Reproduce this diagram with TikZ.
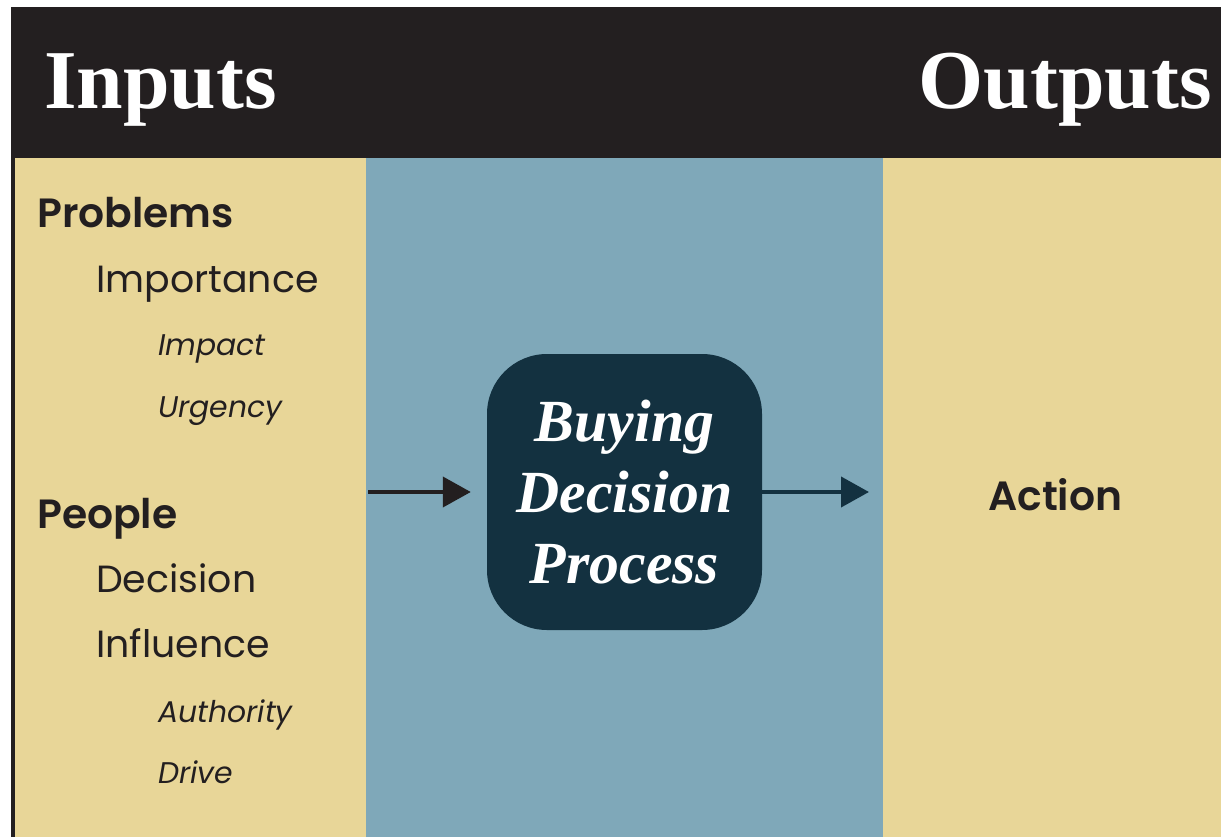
\documentclass[tikz,border=0pt]{standalone}
\usepackage{fontspec}
\usetikzlibrary{arrows.meta}
\newfontfamily\geofont{Poppins}
\newfontfamily\geomedium{Poppins SemiBold}
\newfontfamily\titlefont{Liberation Serif}
\definecolor{barblack}{RGB}{35,31,32}
\definecolor{sand}{RGB}{232,214,152}
\definecolor{steel}{RGB}{127,168,185}
\definecolor{boxteal}{RGB}{19,49,64}
\begin{document}
\begin{tikzpicture}[x=1bp,y=-1bp,
  head/.style={inner sep=0,text=white,font=\titlefont\bfseries\fontsize{84}{90}\selectfont},
  lvlone/.style={inner sep=0,anchor=base west,text=barblack,font=\geomedium\fontsize{41}{48}\selectfont},
  lvltwo/.style={inner sep=0,anchor=base west,text=barblack,font=\geofont\fontsize{38}{46}\selectfont},
  lvlthree/.style={inner sep=0,anchor=base west,text=barblack,font=\geofont\itshape\fontsize{30}{36}\selectfont},
  process/.style={fill=boxteal,rounded corners=60bp,minimum width=275bp,minimum height=276bp,inner sep=0,
    text=white,align=center,font=\titlefont\bfseries\itshape\fontsize{60}{71}\selectfont},
  flow/.style={line width=4bp,-{Triangle[length=28bp,width=30bp]}}]
\useasboundingbox (0,0) rectangle (1221,837);
\fill[barblack](11,7) rectangle (1221,158);
\fill[barblack](11,158) rectangle (15,837);
\fill[sand](15,158) rectangle (366,837);
\fill[steel](366,158) rectangle (883,837);
\fill[sand](883,158) rectangle (1221,837);
\node[head,anchor=base west] (inputs) at (44,108) {Inputs};
\node[head,anchor=base east] (outputs) at (1212,108) {Outputs};
\node[lvlone] (problems) at (37,227) {Problems};
\node[lvltwo] (importance) at (96,292) {Importance};
\node[lvlthree] (impact) at (158,355) {Impact};
\node[lvlthree] (urgency) at (158,417) {Urgency};
\node[lvlone] (people) at (37,528) {People};
\node[lvltwo] (decision) at (96,592) {Decision};
\node[lvltwo] (influence) at (96,657) {Influence};
\node[lvlthree] (authority) at (158,722) {Authority};
\node[lvlthree] (drive) at (158,783) {Drive};
\node[lvlone] (action) at (988,510) {Action};
\node[process] (bdp) at (624.5,492) {Buying\\Decision\\Process};
\coordinate (in) at (368,492);
\coordinate (out) at (869,492);
\draw[flow,barblack,shorten >=16bp](in)--(bdp.west);
\draw[flow,boxteal](bdp.east)--(out);
\end{tikzpicture}
\end{document}
